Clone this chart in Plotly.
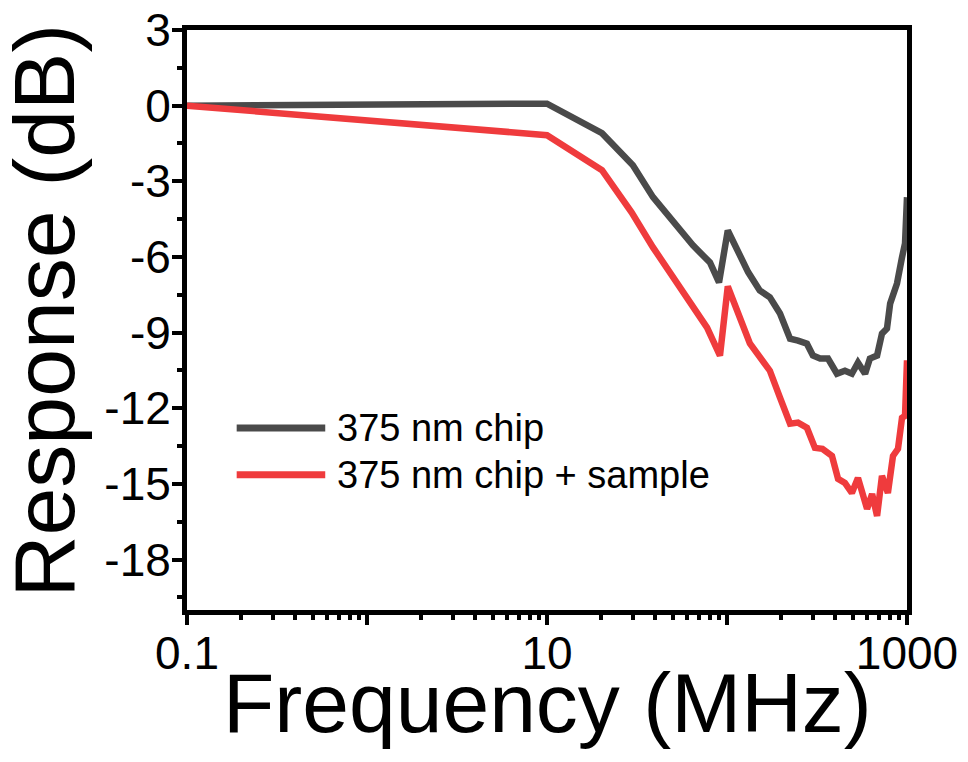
import plotly.graph_objects as go

# Frequency response of the bare chip and chip + sample
freq_chip = [0.1, 1, 10, 20.2, 30, 38.8, 52.7, 64.7, 80.4, 90.3, 101, 115, 131, 152, 173,
             197, 224, 248, 278, 300, 329, 364, 408, 452, 494, 534, 585, 622, 682,
             726, 774, 806, 880, 938, 975, 1000]
resp_chip = [0.0, 0.03, 0.08, -1.09, -2.36, -3.63, -4.83, -5.54, -6.22, -7.01, -4.95, -5.8, -6.6, -7.33, -7.6,
             -8.24, -9.24, -9.32, -9.44, -9.91, -10.03, -10.03, -10.63, -10.51, -10.63, -10.19, -10.63, -10.03, -9.91,
             -9.04, -8.84, -7.85, -7.05, -6.02, -5.46, -3.63]

freq_sample = [0.1, 10, 20.2, 29.5, 38.8, 52.7, 77.5, 91.4, 101, 134, 173, 197, 224, 248, 278,
               308, 339, 383, 414, 452, 494, 534, 600, 640, 682, 726, 783, 836, 891,
               938, 975, 1000]
resp_sample = [0.0, -1.17, -2.56, -4.23, -5.62, -7.05, -8.8, -9.91, -7.17, -9.43, -10.51, -11.58, -12.61, -12.57, -12.77,
               -13.57, -13.61, -13.89, -14.8, -14.96, -15.36, -14.76, -15.99, -15.4, -16.27, -14.68, -15.36, -13.89, -13.61,
               -12.38, -12.3, -10.1]

series_names = ["375 nm chip", "375 nm chip + sample"]
series_colors = ["#4a4a4a", "#ef3b3d"]

x_major = [0.1, 1, 10, 100, 1000]
x_major_text = ["0.1", "", "10", "", "1000"]
x_minor = [m * d for d in [0.1, 1, 10, 100] for m in range(2, 10)]
y_major = [3, 0, -3, -6, -9, -12, -15, -18]
y_minor = [1.5, -1.5, -4.5, -7.5, -10.5, -13.5, -16.5, -19.5]

FONT = "Liberation Sans, Arial, sans-serif"

fig = go.Figure()
for f, r, name, color in zip([freq_chip, freq_sample], [resp_chip, resp_sample],
                             series_names, series_colors):
    fig.add_trace(go.Scatter(x=f, y=r, mode="lines", name=name,
                             line=dict(color=color, width=6.5), showlegend=False))

axis_common = dict(
    showgrid=False, zeroline=False, showline=True, linecolor="black", linewidth=5,
    mirror=True, ticks="outside", ticklen=10, tickwidth=4, tickcolor="black",
    tickfont=dict(family=FONT, size=46, color="black"), automargin=False,
)

fig.update_xaxes(
    type="log", range=[-1, 3], tickmode="array", tickvals=x_major, ticktext=x_major_text,
    minor=dict(tickmode="array", tickvals=x_minor, ticks="outside", ticklen=5, tickwidth=4,
               tickcolor="black"),
    ticklabelstandoff=-11,
    **axis_common,
)
fig.update_yaxes(
    range=[-20, 3], tickmode="array", tickvals=y_major, ticktext=[str(v) for v in y_major],
    minor=dict(tickmode="array", tickvals=y_minor, ticks="outside", ticklen=5, tickwidth=4,
               tickcolor="black"),
    ticklabelstandoff=-8,
    **axis_common,
)

# Axis titles
fig.add_annotation(xref="paper", yref="paper", x=0.5, y=-0.160, text="Frequency (MHz)",
                   showarrow=False, xanchor="center", yanchor="middle",
                   font=dict(family=FONT, size=84, color="black"))
fig.add_annotation(xref="paper", yref="paper", x=-0.198, y=0.517, text="Response (dB)",
                   showarrow=False, xanchor="center", yanchor="middle", textangle=-90,
                   font=dict(family=FONT, size=86, color="black"))

# Legend drawn as key lines with labels inside the plot area
legend_y = [0.314, 0.233]
for yk, name, color in zip(legend_y, series_names, series_colors):
    fig.add_shape(type="line", xref="paper", yref="paper", x0=0.069, x1=0.192, y0=yk, y1=yk,
                  line=dict(color=color, width=7))
    fig.add_annotation(xref="paper", yref="paper", x=0.206, y=yk, text=name, showarrow=False,
                       xanchor="left", yanchor="middle",
                       font=dict(family=FONT, size=38, color="black"))

fig.update_layout(
    width=968, height=762,
    margin=dict(l=187, r=61, t=30, b=152, autoexpand=False),
    paper_bgcolor="white", plot_bgcolor="white",
    showlegend=False,
)

fig.write_html("out.html")
